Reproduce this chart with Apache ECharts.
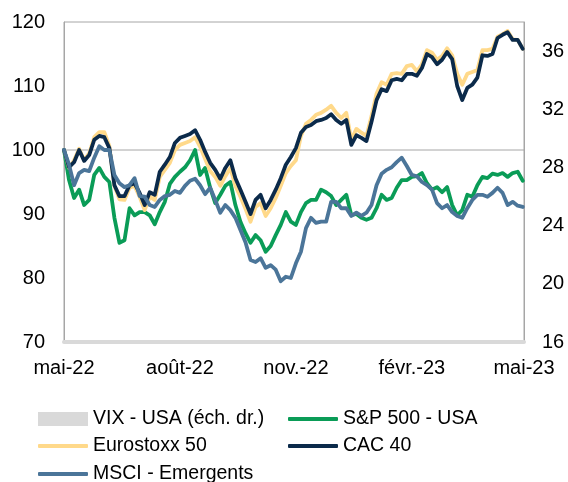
<!DOCTYPE html>
<html>
<head>
<meta charset="utf-8">
<script src="https://cdn.jsdelivr.net/npm/echarts@6/dist/echarts.min.js"></script>
<style>
  html, body { margin: 0; padding: 0; background: #fff; }
  #chart { width: 568px; height: 482px; }
</style>
</head>
<body>
<div id="chart"></div>
<script>
// Sampling dates (every 4 days, May 2022 – April 2023)
const dates = [
  '2022-05-01','2022-05-05','2022-05-09','2022-05-13','2022-05-17','2022-05-21','2022-05-25','2022-05-29',
  '2022-06-02','2022-06-06','2022-06-10','2022-06-14','2022-06-18','2022-06-22','2022-06-26','2022-06-30',
  '2022-07-04','2022-07-08','2022-07-12','2022-07-16','2022-07-20','2022-07-24','2022-07-28','2022-08-01',
  '2022-08-05','2022-08-09','2022-08-13','2022-08-17','2022-08-21','2022-08-25','2022-08-29','2022-09-02',
  '2022-09-06','2022-09-10','2022-09-14','2022-09-18','2022-09-22','2022-09-26','2022-09-30','2022-10-04',
  '2022-10-08','2022-10-12','2022-10-16','2022-10-20','2022-10-24','2022-10-28','2022-11-01','2022-11-05',
  '2022-11-09','2022-11-13','2022-11-17','2022-11-21','2022-11-25','2022-11-29','2022-12-03','2022-12-07',
  '2022-12-11','2022-12-15','2022-12-19','2022-12-23','2022-12-27','2022-12-31','2023-01-04','2023-01-08',
  '2023-01-12','2023-01-16','2023-01-20','2023-01-24','2023-01-28','2023-02-01','2023-02-05','2023-02-09',
  '2023-02-13','2023-02-17','2023-02-21','2023-02-25','2023-03-01','2023-03-05','2023-03-09','2023-03-13',
  '2023-03-17','2023-03-21','2023-03-25','2023-03-29','2023-04-02','2023-04-06','2023-04-10','2023-04-14',
  '2023-04-18','2023-04-22','2023-04-26','2023-04-30'
];

// Indices, base 100 at 1 May 2022
const sp500 = [
  100.0, 95.3, 92.5, 93.8, 91.4, 92.2, 96.1, 97.2, 95.8, 95.0, 89.4, 85.5, 85.9, 90.9, 89.8, 90.3,
  90.3, 89.8, 88.4, 90.3, 91.9, 94.7, 95.8, 96.6, 97.3, 98.4, 100.0, 96.1, 97.2, 94.1, 91.7, 93.0,
  94.4, 95.0, 91.4, 88.8, 87.0, 85.5, 86.7, 85.9, 84.1, 85.0, 86.7, 88.3, 90.3, 88.8, 88.3, 90.3,
  91.7, 92.2, 92.2, 93.8, 93.4, 92.8, 91.4, 92.2, 93.0, 89.8, 90.0, 89.4, 89.1, 89.4, 90.9, 93.0,
  92.2, 92.5, 94.1, 95.3, 95.3, 95.8, 95.9, 96.4, 94.8, 93.8, 94.2, 93.4, 94.2, 91.4, 89.8, 90.6,
  93.0, 92.7, 94.5, 95.8, 95.6, 96.3, 96.1, 96.4, 95.8, 96.4, 96.6, 95.2
];
const eurostoxx50 = [
  100.0, 97.2, 98.4, 100.2, 98.4, 99.5, 102.0, 102.8, 102.8, 100.6, 94.4, 92.3, 92.2, 94.1, 94.4, 92.7,
  90.6, 92.7, 92.2, 95.8, 96.9, 98.0, 100.0, 100.8, 101.1, 101.4, 102.0, 100.5, 98.6, 96.7, 95.8, 94.4,
  95.9, 97.2, 94.4, 92.7, 90.8, 88.8, 91.1, 91.7, 89.7, 90.9, 92.5, 94.4, 96.4, 97.5, 98.4, 102.2,
  104.1, 104.7, 105.5, 105.8, 106.3, 106.9, 105.8, 105.0, 105.8, 101.6, 103.3, 102.7, 102.2, 105.3, 108.8, 110.6,
  110.2, 111.9, 112.0, 111.9, 113.1, 113.3, 112.3, 113.4, 115.6, 115.2, 114.1, 114.7, 115.9, 114.8, 111.9, 110.2,
  111.9, 112.2, 112.5, 115.6, 115.6, 115.8, 117.7, 118.1, 118.6, 117.3, 117.2, 115.8
];
const cac40 = [
  100.0, 97.3, 98.1, 100.0, 98.3, 99.2, 101.6, 102.2, 102.0, 100.3, 94.5, 92.8, 92.8, 94.5, 94.8, 93.3,
  91.4, 93.4, 93.0, 96.6, 97.7, 98.9, 101.1, 101.9, 102.2, 102.5, 103.1, 101.6, 99.7, 98.0, 96.9, 95.5,
  97.2, 98.4, 95.6, 93.8, 91.9, 90.0, 92.2, 93.0, 90.9, 92.2, 93.8, 95.6, 97.7, 98.9, 100.3, 102.7,
  103.6, 103.9, 104.5, 104.7, 105.0, 105.6, 104.7, 104.1, 104.7, 100.8, 102.3, 101.9, 101.4, 104.4, 107.8, 109.5,
  109.2, 110.9, 111.1, 110.9, 111.9, 111.9, 111.6, 112.8, 115.0, 114.5, 113.4, 114.1, 115.3, 114.2, 110.0, 107.8,
  109.7, 110.2, 111.3, 114.8, 114.7, 115.0, 117.5, 118.0, 118.4, 117.2, 117.2, 115.8
];
const msciEmergents = [
  100.0, 97.7, 94.5, 96.4, 96.9, 96.7, 98.8, 100.6, 100.0, 100.0, 96.1, 94.8, 94.2, 94.5, 95.6, 92.8,
  92.7, 91.4, 91.1, 92.2, 92.8, 93.0, 93.6, 93.3, 94.4, 95.2, 95.5, 94.5, 93.1, 94.1, 92.2, 90.2,
  91.4, 90.6, 89.4, 87.5, 85.6, 82.8, 82.5, 83.1, 81.6, 82.0, 81.3, 79.5, 80.2, 80.0, 82.3, 84.1,
  87.8, 89.4, 88.6, 88.8, 88.8, 91.9, 91.9, 90.9, 90.9, 89.7, 90.2, 89.7, 90.2, 91.4, 94.5, 96.3,
  96.9, 97.3, 98.1, 98.8, 97.5, 96.1, 95.9, 95.0, 94.5, 93.8, 91.7, 90.9, 91.4, 90.3, 89.7, 89.4,
  90.9, 92.2, 93.0, 93.0, 92.7, 93.3, 94.1, 93.3, 91.4, 91.9, 91.3, 91.1
];
// VIX (right scale) appears in the key only
const vixUsa = [];

// Reference level drawn across the plot
const baseLevel = [100, 100];
const baseDates = ['2022-05-01', '2023-05-01'];

// Axis ticks
const xTickDays = [0, 92, 184, 276, 365];
const xTickLabels = ['mai-22', 'août-22', 'nov.-22', 'févr.-23', 'mai-23'];

const seriesNames = ['VIX - USA (éch. dr.)', 'S&P 500 - USA', 'Eurostoxx 50', 'CAC 40', 'MSCI - Emergents'];
const colors = {
  vix: '#d9d9d9',
  sp: '#0a9c57',
  euro: '#ffd98a',
  cac: '#0b2a4a',
  msci: '#4b7599'
};

const FONT = 'Liberation Sans, Arial, sans-serif';
const origin = Date.UTC(2022, 4, 1);
const dayOf = s => {
  const p = s.split('-').map(Number);
  return Math.round((Date.UTC(p[0], p[1] - 1, p[2]) - origin) / 86400000);
};
const pairs = (ds, vs) => vs.map((v, i) => [dayOf(ds[i]), v]);

const chart = echarts.init(document.getElementById('chart'), null, { renderer: 'canvas' });

const lineSeries = (name, values, color) => ({
  name: name,
  type: 'line',
  data: pairs(dates, values),
  showSymbol: false,
  symbol: 'none',
  smooth: false,
  lineStyle: { color: color, width: 3.8, join: 'round', cap: 'round' },
  itemStyle: { color: color },
  emphasis: { disabled: true },
  z: 3
});

const legendBox = (name, left, top, icon, h) => ({
  data: [{ name: name, icon: icon }],
  left: left,
  top: top,
  padding: 0,
  itemWidth: 50,
  itemHeight: h,
  itemGap: 0,
  selectedMode: false,
  textStyle: { color: '#000', fontSize: 19.5, fontFamily: FONT, padding: [0, 0, 0, 0] }
});

chart.setOption({
  animation: false,
  backgroundColor: '#fff',
  grid: {
    left: 64, right: 44, top: 22, bottom: 140,
    show: true, borderColor: '#a6a6a6', borderWidth: 1,
    backgroundColor: 'transparent'
  },
  legend: [
    legendBox(seriesNames[0], 38, 409, 'rect', 14),
    legendBox(seriesNames[1], 288, 409, 'roundRect', 4),
    legendBox(seriesNames[2], 38, 436, 'roundRect', 4),
    legendBox(seriesNames[3], 288, 436, 'roundRect', 4),
    legendBox(seriesNames[4], 38, 464, 'roundRect', 4)
  ],
  xAxis: {
    type: 'value',
    min: 0, max: 365, interval: 92,
    axisLine: { show: true, lineStyle: { color: '#d9d9d9', width: 4 } },
    axisTick: { show: false },
    splitLine: { show: false },
    axisLabel: {
      color: '#000', fontSize: 20, fontFamily: FONT, margin: 16,
      showMinLabel: true, showMaxLabel: true,
      formatter: v => {
        const i = xTickDays.indexOf(Math.round(v));
        return i >= 0 ? xTickLabels[i] : '';
      }
    }
  },
  yAxis: [
    {
      type: 'value', min: 70, max: 120, interval: 10,
      axisLine: { show: true, lineStyle: { color: '#a6a6a6', width: 1 } },
      axisTick: { show: false },
      splitLine: { show: false },
      axisLabel: { color: '#000', fontSize: 20, fontFamily: FONT, margin: 19 }
    },
    {
      type: 'value', min: 16, max: 38, interval: 4, position: 'right',
      axisLine: { show: true, lineStyle: { color: '#a6a6a6', width: 1 } },
      axisTick: { show: false },
      splitLine: { show: false },
      axisLabel: { color: '#000', fontSize: 20, fontFamily: FONT, margin: 18, showMaxLabel: false }
    }
  ],
  series: [
    {
      name: 'niveau 100', type: 'line', data: pairs(baseDates, baseLevel),
      symbol: 'none', lineStyle: { color: '#a6a6a6', width: 1 }, silent: true, z: 1
    },
    {
      name: seriesNames[0], type: 'line', yAxisIndex: 1, data: pairs(dates, vixUsa),
      symbol: 'none', lineStyle: { width: 0 }, areaStyle: { color: colors.vix },
      itemStyle: { color: colors.vix }, z: 2
    },
    lineSeries(seriesNames[1], sp500, colors.sp),
    lineSeries(seriesNames[2], eurostoxx50, colors.euro),
    lineSeries(seriesNames[3], cac40, colors.cac),
    lineSeries(seriesNames[4], msciEmergents, colors.msci)
  ]
});
</script>
</body>
</html>
